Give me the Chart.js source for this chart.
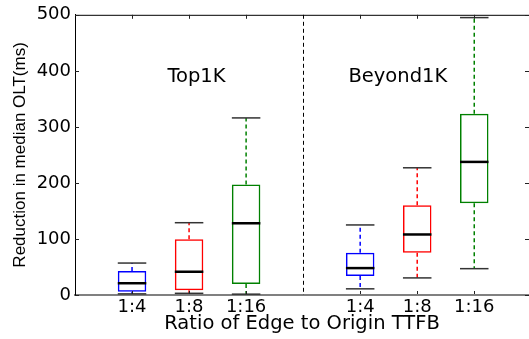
<!DOCTYPE html>
<html><head><meta charset="utf-8">
<script src="https://cdn.jsdelivr.net/npm/chart.js@4"></script>
<style>html,body{margin:0;padding:0;background:#fff;overflow:hidden}canvas{display:block}</style>
</head><body>
<canvas id="c" width="529" height="339"></canvas>
<script>
// ---- data ----
const groups = ['Top1K', 'Beyond1K'];
const ratios = ['1:4', '1:8', '1:16'];
const positions = [1, 2, 3, 5, 6, 7];
const tickLabels = ['1:4', '1:8', '1:16', '1:4', '1:8', '1:16'];
const whiskerLow  = [2,   3,    1.5, 11,  30.5, 47];
const q1          = [6,   8.5,  19.5, 34, 75.5, 163.5];
const median      = [21,  41.5, 128,  48, 108,  237.5];
const q3          = [43,  99.5, 197,  75.5, 160, 323.5];
const whiskerHigh = [57,  129,  316,  125, 227,  495];
const groupSeparator = 4;
const groupLabelX = [2.13, 5.66];
const groupLabelY = 390;
const yTicks = [0, 100, 200, 300, 400, 500];
const boxColors = ['#0000ff', '#ff0000', '#008000', '#0000ff', '#ff0000', '#008000'];

const WIDE = '"DejaVu Sans", Verdana, sans-serif';
const NARROW = '"Liberation Sans", Arial, Helvetica, sans-serif';
Chart.defaults.font.family = WIDE;
Chart.defaults.color = '#000';

function seg(ctx, x1, y1, x2, y2) { ctx.beginPath(); ctx.moveTo(x1, y1); ctx.lineTo(x2, y2); ctx.stroke(); }

const boxPlugin = {
  id: 'boxplot',
  afterDatasetsDraw(chart) {
    const { ctx, scales: { x, y } } = chart;
    const meta = chart.getDatasetMeta(0);
    ctx.save();
    meta.data.forEach((bar, i) => {
      const cx = x.getPixelForValue(positions[i]);
      const hw = bar.width / 2;
      ctx.strokeStyle = boxColors[i]; ctx.lineWidth = 1.5; ctx.setLineDash([4, 3]);
      seg(ctx, cx, y.getPixelForValue(q3[i]), cx, y.getPixelForValue(whiskerHigh[i]));
      seg(ctx, cx, y.getPixelForValue(q1[i]), cx, y.getPixelForValue(whiskerLow[i]));
      ctx.setLineDash([]);
      ctx.strokeStyle = '#333'; ctx.lineWidth = 1.5;
      seg(ctx, cx - hw, y.getPixelForValue(whiskerHigh[i]), cx + hw, y.getPixelForValue(whiskerHigh[i]));
      seg(ctx, cx - hw, y.getPixelForValue(whiskerLow[i]), cx + hw, y.getPixelForValue(whiskerLow[i]));
      ctx.strokeStyle = '#000'; ctx.lineWidth = 2.5;
      seg(ctx, cx - hw, y.getPixelForValue(median[i]), cx + hw, y.getPixelForValue(median[i]));
    });
    ctx.restore();
  },
  afterDraw(chart) {
    const { ctx, chartArea: a, scales: { x, y } } = chart;
    ctx.save();
    ctx.strokeStyle = '#000'; ctx.lineWidth = 1;
    seg(ctx, a.left, a.top + 0.5, a.right, a.top + 0.5);
    ctx.lineWidth = 1; ctx.strokeStyle = '#222';
    positions.forEach(p => {
      const px = Math.round(x.getPixelForValue(p)) + 0.5;
      seg(ctx, px, a.bottom - 1, px, a.bottom - 4);
      seg(ctx, px, a.top, px, a.top + 4);
    });
    yTicks.forEach(v => {
      const py = Math.round(y.getPixelForValue(v)) + 0.5;
      seg(ctx, a.left, py, a.left + 4, py);
      seg(ctx, a.right, py, a.right - 4, py);
    });
    ctx.setLineDash([4, 3]); ctx.strokeStyle = '#000'; ctx.lineWidth = 1;
    const sx = Math.round(x.getPixelForValue(groupSeparator)) + 0.5;
    seg(ctx, sx, a.top, sx, a.bottom);
    ctx.setLineDash([]);
    ctx.fillStyle = '#000'; ctx.font = '19.5px ' + WIDE;
    ctx.textAlign = 'center'; ctx.textBaseline = 'middle';
    groups.forEach((g, i) => {
      ctx.fillText(g, x.getPixelForValue(groupLabelX[i]), y.getPixelForValue(groupLabelY));
    });
    ctx.restore();
  }
};

new Chart(document.getElementById('c'), {
  type: 'bar',
  data: {
    datasets: [{
      data: positions.map((p, i) => ({ x: p, y: [q1[i], q3[i]] })),
      backgroundColor: 'rgba(255,255,255,0)',
      borderColor: boxColors,
      borderWidth: 1.5,
      borderSkipped: false,
      categoryPercentage: 1,
      barPercentage: 0.5
    }]
  },
  options: {
    responsive: false,
    animation: false,
    events: [],
    layout: { padding: { top: 12, right: 0, bottom: 0, left: 0 } },
    plugins: { legend: { display: false }, tooltip: { enabled: false } },
    scales: {
      x: {
        type: 'linear', min: 0, max: 7.96, offset: false,
        afterBuildTicks: s => { s.ticks = positions.map(v => ({ value: v })); },
        afterFit: s => { s.height = 44; },
        ticks: {
          autoSkip: false, maxRotation: 0, padding: 2,
          font: { size: 18 },
          callback: (v) => tickLabels[positions.indexOf(v)]
        },
        grid: { display: false, drawTicks: false },
        border: { display: true, color: '#808080', width: 2 },
        title: { display: true, text: 'Ratio of Edge to Origin TTFB', font: { size: 19.5 }, padding: { top: 0, bottom: 3 } }
      },
      y: {
        min: 0, max: 500,
        afterBuildTicks: s => { s.ticks = yTicks.map(v => ({ value: v })); },
        afterFit: s => { s.width = 75; },
        ticks: { padding: 4, font: { size: 18 } },
        grid: { display: false, drawTicks: false },
        border: { display: true, color: '#000', width: 1 },
        title: { display: true, text: 'Reduction in median OLT(ms)', font: { size: 17, family: NARROW }, padding: { top: 10, bottom: 0 } }
      }
    }
  },
  plugins: [boxPlugin]
});
</script>
</body></html>
